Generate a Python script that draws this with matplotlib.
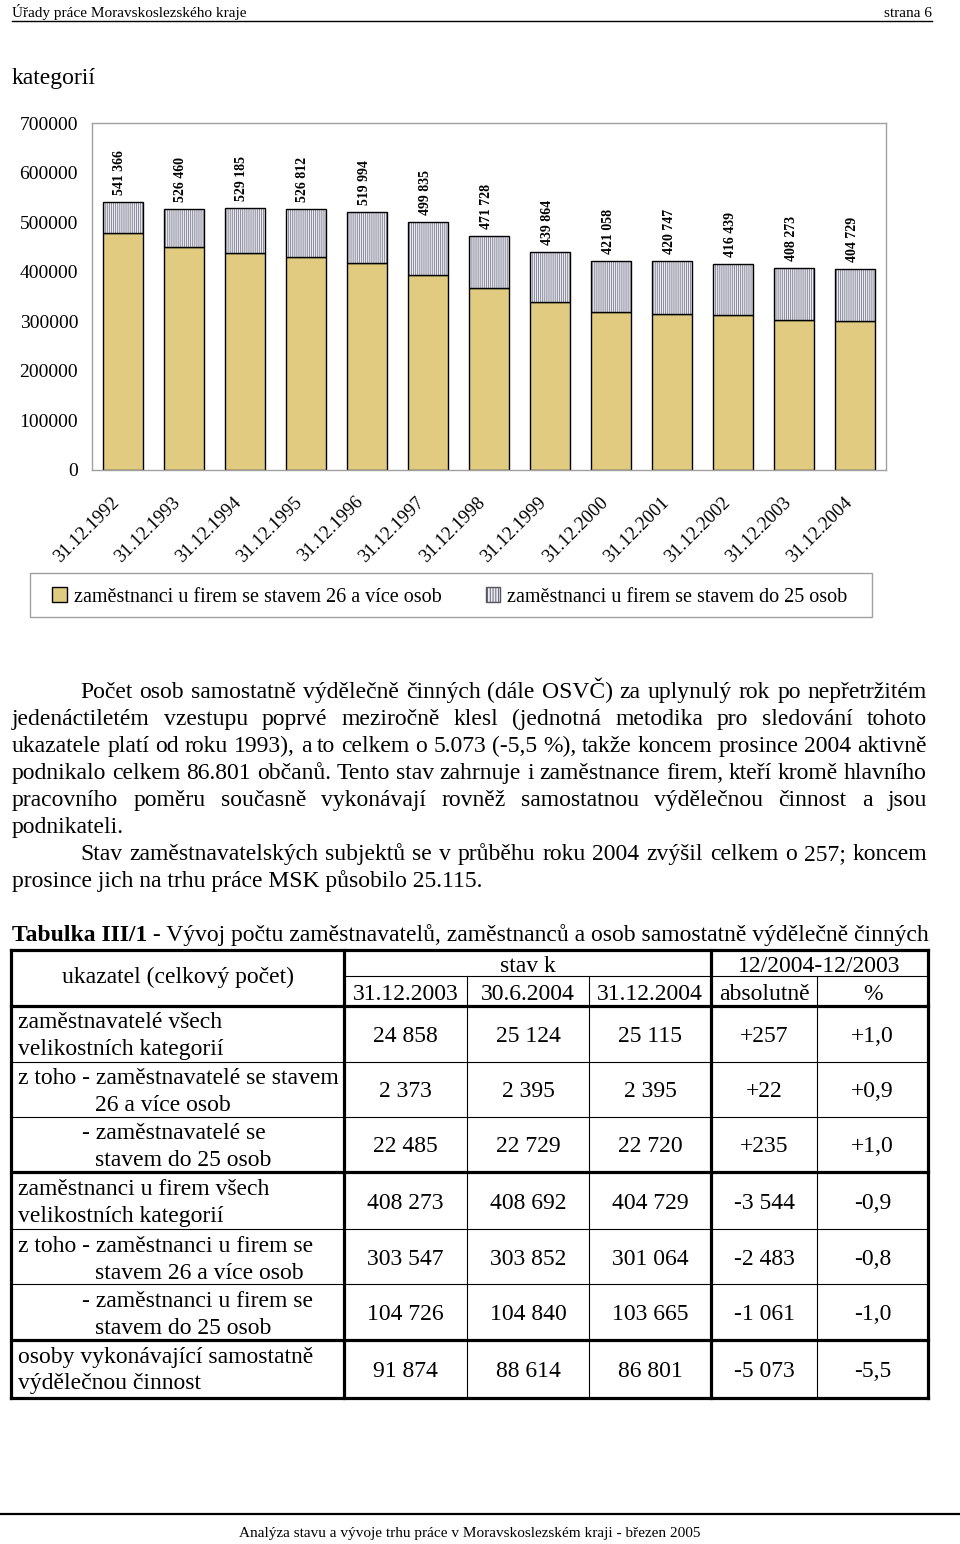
import matplotlib
matplotlib.use('Agg')
import matplotlib.pyplot as plt
from matplotlib.patches import Patch, Rectangle

plt.rcParams['font.family'] = ['Liberation Serif', 'DejaVu Serif']
plt.rcParams['hatch.linewidth'] = 0.6

W, H = 960, 1544

# chart data
dates = ['31.12.1992', '31.12.1993', '31.12.1994', '31.12.1995', '31.12.1996',
         '31.12.1997', '31.12.1998', '31.12.1999', '31.12.2000', '31.12.2001',
         '31.12.2002', '31.12.2003', '31.12.2004']
totals = [541366, 526460, 529185, 526812, 519994, 499835, 471728,
          439864, 421058, 420747, 416439, 408273, 404729]
big_firms = [477500, 450600, 437100, 429000, 417700, 394100, 367900,
             339000, 319400, 315400, 312800, 303547, 301064]
small_firms = [t - b for t, b in zip(totals, big_firms)]
legend_labels = ['zaměstnanci u firem se stavem 26 a více osob',
                 'zaměstnanci u firem se stavem do 25 osob']

# body text
para_lines = [
    'Počet osob samostatně výdělečně činných (dále OSVČ) za uplynulý rok po nepřetržitém',
    'jedenáctiletém vzestupu poprvé meziročně klesl (jednotná metodika pro sledování tohoto',
    'ukazatele platí od roku 1993), a to celkem o 5.073 (-5,5 %), takže koncem prosince 2004 aktivně',
    'podnikalo celkem 86.801 občanů. Tento stav zahrnuje i zaměstnance firem, kteří kromě hlavního',
    'pracovního poměru současně vykonávají rovněž samostatnou výdělečnou činnost a jsou',
    'podnikateli.',
    'Stav zaměstnavatelských subjektů se v průběhu roku 2004 zvýšil celkem o 257; koncem',
    'prosince jich na trhu práce MSK působilo 25.115.',
]
para_indent = [True, False, False, False, False, False, True, False]
para_justify = [True, True, True, True, True, False, True, False]

# table data
row_labels = [
    ['zaměstnavatelé všech', 'velikostních kategorií'],
    ['z toho - zaměstnavatelé se stavem', '26 a více osob'],
    ['- zaměstnavatelé se', 'stavem do 25 osob'],
    ['zaměstnanci u firem všech', 'velikostních kategorií'],
    ['z toho - zaměstnanci u firem se', 'stavem 26 a více osob'],
    ['- zaměstnanci u firem se', 'stavem do 25 osob'],
    ['osoby vykonávající samostatně', 'výdělečnou činnost'],
]
label_x = [(18, 18), (18, 95), (82, 95), (18, 18), (18, 95), (82, 95), (18, 18)]
c2003 = ['24 858', '2 373', '22 485', '408 273', '303 547', '104 726', '91 874']
c2004_6 = ['25 124', '2 395', '22 729', '408 692', '303 852', '104 840', '88 614']
c2004_12 = ['25 115', '2 395', '22 720', '404 729', '301 064', '103 665', '86 801']
absol = ['+257', '+22', '+235', '-3 544', '-2 483', '-1 061', '-5 073']
pct = ['+1,0', '+0,9', '+1,0', '-0,9', '-0,8', '-1,0', '-5,5']
sub_heads = ['31.12.2003', '30.6.2004', '31.12.2004', 'absolutně', '%']

fig = plt.figure(figsize=(W / 100, H / 100), dpi=100)
page = fig.add_axes([0, 0, 1, 1])
page.set_xlim(0, W)
page.set_ylim(H, 0)
page.axis('off')

# header / footer
page.text(12, 17, 'Úřady práce Moravskoslezského kraje', fontsize=11, va='baseline')
page.text(932, 17, 'strana 6', fontsize=11, va='baseline', ha='right')
page.plot([12, 932], [21, 21], color='black', lw=1.0)
page.plot([0, 960], [1514, 1514], color='black', lw=1.6)
page.text(470, 1537, 'Analýza stavu a vývoje trhu práce v Moravskoslezském kraji - březen 2005',
          fontsize=11, ha='center', va='baseline')
page.text(12, 84, 'kategorií', fontsize=17, va='baseline')

# chart
def fig_rect(x0, y0, x1, y1):
    return [x0 / W, 1 - y1 / H, (x1 - x0) / W, (y1 - y0) / H]

ax = fig.add_axes(fig_rect(92, 123, 886, 470))
x = list(range(len(dates)))
bw = 0.655
tan = '#E0CB80'
lav = '#EAEAF2'
ax.bar(x, big_firms, width=bw, color=tan, edgecolor='black', linewidth=1.0)
ax.bar(x, small_firms, bottom=big_firms, width=bw, color=lav,
       edgecolor='#7c7c8c', hatch='|' * 8, linewidth=0)
ax.bar(x, small_firms, bottom=big_firms, width=bw, fill=False,
       edgecolor='black', linewidth=1.0)
for xi, t in zip(x, totals):
    ax.annotate(f'{t:,}'.replace(',', ' '), (xi, t), xytext=(-2, 5),
                textcoords='offset points', rotation=90, ha='center', va='bottom',
                fontsize=10, fontweight='bold')
ax.set_xlim(-0.5, len(dates) - 0.5)
ax.set_ylim(0, 700000)
ax.set_yticks(range(0, 700001, 100000))
ax.set_yticklabels([str(v) for v in range(0, 700001, 100000)])
ax.set_xticks(x)
ax.set_xticklabels(dates, rotation=45, ha='right')
ax.tick_params(axis='y', length=0, pad=10, labelsize=14)
ax.tick_params(axis='x', length=0, pad=17, labelsize=13.5)
for s in ax.spines.values():
    s.set_color('#a0a0a0')
    s.set_linewidth(1.0)

# legend
page.add_patch(Rectangle((30, 573), 842, 44, fill=False, edgecolor='#a0a0a0', lw=1.0))
handles = [Patch(facecolor=tan, edgecolor='black', lw=1.0),
           Patch(facecolor=lav, edgecolor='#555560', hatch='|' * 6, lw=1.0)]
fig.legend(handles, legend_labels, loc='center left', bbox_to_anchor=(42 / W, 1 - 597 / H),
           ncol=2, frameon=False, fontsize=14.5, borderpad=0, handlelength=0.72,
           handleheight=0.72, handletextpad=0.35, columnspacing=2.2)

# paragraph text
renderer = fig.canvas.get_renderer()

def text_width(s, **kw):
    t = page.text(0, 0, s, **kw)
    w = t.get_window_extent(renderer).width
    t.remove()
    return w

fs_body = 17
base = 698
for i, line in enumerate(para_lines):
    y = base + 27 * i
    x0 = 80 if para_indent[i] else 12
    if para_justify[i]:
        words = line.split(' ')
        widths = [text_width(w_, fontsize=fs_body) for w_ in words]
        gap = (927 - x0 - sum(widths)) / (len(words) - 1)
        xp = x0
        for w_, wd in zip(words, widths):
            page.text(xp, y, w_, fontsize=fs_body, va='baseline')
            xp += wd + gap
    else:
        page.text(x0, y, line, fontsize=fs_body, va='baseline')

# table title
bold_part = 'Tabulka III/1'
page.text(12, 941, bold_part, fontsize=fs_body, fontweight='bold', va='baseline')
bwid = text_width(bold_part, fontsize=fs_body, fontweight='bold')
page.text(12 + bwid, 941,
          ' - Vývoj počtu zaměstnavatelů, zaměstnanců a osob samostatně výdělečně činných',
          fontsize=fs_body, va='baseline')

# table grid
xl, xr = 11, 928
y_top, y_mid, y_head = 950, 976, 1005.7
row_y = [1005.7, 1061.7, 1116.7, 1172.3, 1229.3, 1284.3, 1340, 1397.7]
thick, thin = 2.3, 0.8

def hline(y, x0, x1, lw):
    page.plot([x0, x1], [y, y], color='black', lw=lw, solid_capstyle='projecting')

def vline(xv, y0, y1, lw):
    page.plot([xv, xv], [y0, y1], color='black', lw=lw, solid_capstyle='projecting')

hline(y_mid, 344, xr, thin)
for yy in [1061.7, 1116.7, 1229.3, 1284.3]:
    hline(yy, xl, xr, thin)
for xv in [467, 589, 817]:
    vline(xv, y_mid, row_y[-1], thin)
for yy in [y_top, y_head, 1172.3, 1340, row_y[-1]]:
    hline(yy, xl, xr, thick)
for xv in [xl, 344, 711, xr]:
    vline(xv, y_top, row_y[-1], thick)

# table header text
page.text((xl + 344) / 2, 983, 'ukazatel (celkový počet)', fontsize=fs_body, ha='center', va='baseline')
page.text((344 + 711) / 2, 971.5, 'stav k', fontsize=fs_body, ha='center', va='baseline')
page.text((711 + xr) / 2, 971.5, '12/2004-12/2003', fontsize=fs_body, ha='center', va='baseline')
edges = [344, 467, 589, 711, 817, xr]
centers = [(edges[k] + edges[k + 1]) / 2 for k in range(5)]
for cx, s in zip(centers, sub_heads):
    page.text(cx, 1000, s, fontsize=fs_body, ha='center', va='baseline')

# table body
cols = [c2003, c2004_6, c2004_12, absol, pct]
for r in range(len(row_labels)):
    top, bot = row_y[r], row_y[r + 1]
    page.text(label_x[r][0], top + 22.5, row_labels[r][0], fontsize=fs_body, va='baseline')
    page.text(label_x[r][1], top + 49.5, row_labels[r][1], fontsize=fs_body, va='baseline')
    yb = (top + bot) / 2 + 8
    for cx, col in zip(centers, cols):
        page.text(cx, yb, col[r], fontsize=fs_body, ha='center', va='baseline')

fig.savefig('out.png', dpi=100)
